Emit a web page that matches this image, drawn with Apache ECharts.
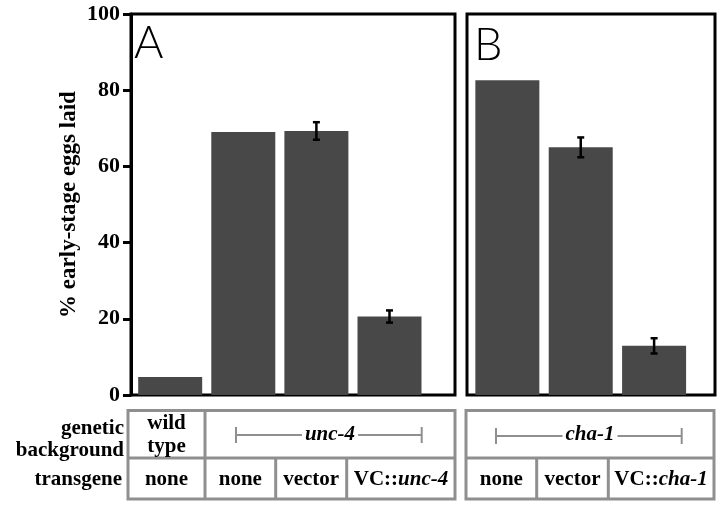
<!DOCTYPE html>
<html><head><meta charset="utf-8">
<script src="https://cdn.jsdelivr.net/npm/echarts@6/dist/echarts.min.js"></script>
<style>html,body{margin:0;padding:0;background:#fff}#c{width:720px;height:506px}</style>
</head><body><div id="c"></div>
<script>
// ---- data ----
const categoriesA = ['wild type / none', 'unc-4 / none', 'unc-4 / vector', 'unc-4 / VC::unc-4'];
const valuesA = [4.7, 69.0, 69.3, 20.6];
const errA = [null, null, 2.3, 1.6];
const categoriesB = ['cha-1 / none', 'cha-1 / vector', 'cha-1 / VC::cha-1'];
const valuesB = [82.6, 65.0, 12.9];
const errB = [null, 2.6, 2.0];
const yTicks = [0, 20, 40, 60, 80, 100];
const yTitle = '% early-stage eggs laid';
const rowLabels = ['genetic\nbackground', 'transgene'];
const backgroundA = ['wild\ntype', 'unc-4'];
const transgeneA = ['none', 'none', 'vector', 'VC::unc-4'];
const backgroundB = ['cha-1'];
const transgeneB = ['none', 'vector', 'VC::cha-1'];

const SERIF = '"Liberation Serif","Times New Roman",serif';
const BAR = '#484848';
const GRAY = '#8f8f8f';

function barData(vals){ return vals.map((v,i)=>[i,v]); }
function errData(vals, errs){
  const out=[]; vals.forEach((v,i)=>{ if(errs[i]!=null) out.push([i, v-errs[i], v+errs[i]]); }); return out;
}
function errRender(params, api){
  const x=api.value(0), lo=api.coord([x, api.value(1)]), hi=api.coord([x, api.value(2)]);
  const w=3.5;
  const st={stroke:'#000', lineWidth:2.5};
  return {type:'group', children:[
    {type:'line', shape:{x1:lo[0],y1:lo[1],x2:hi[0],y2:hi[1]}, style:st},
    {type:'line', shape:{x1:lo[0]-w,y1:lo[1],x2:lo[0]+w,y2:lo[1]}, style:st},
    {type:'line', shape:{x1:hi[0]-w,y1:hi[1],x2:hi[0]+w,y2:hi[1]}, style:st}
  ]};
}

function txt(x,y,text,opt){
  return Object.assign({type:'text', x:x, y:y, z:20, style:Object.assign({
    text:text, font:'bold 21px '+SERIF, fill:'#000', align:'center', verticalAlign:'middle'
  }, opt||{})});
}
function ln(x1,y1,x2,y2,color,w){
  return {type:'line', z:10, shape:{x1,y1,x2,y2}, style:{stroke:color||GRAY, lineWidth:w||3}};
}
function italicMixed(x,y,plain,ital){
  return {type:'text', x:x, y:y, z:20, style:{
    text:'{p|'+plain+'}{i|'+ital+'}', align:'center', verticalAlign:'middle',
    rich:{p:{font:'bold 21px '+SERIF, fill:'#000'}, i:{font:'italic bold 21px '+SERIF, fill:'#000'}}
  }};
}

const tTop=410.5, tMid=458, tBot=499;
const graphics = [
  {type:'text', x:134, y:21, z:30, style:{text:'A', font:'300 45px Lato, "Open Sans", sans-serif', fill:'#000'}},
  {type:'text', x:474, y:23, z:30, style:{text:'B', font:'300 45px Lato, "Open Sans", sans-serif', fill:'#000'}},
  txt(124, 440, rowLabels[0], {align:'right', lineHeight:22}),
  txt(122, 480, rowLabels[1], {align:'right'}),
  {type:'rect', z:10, shape:{x:128,y:tTop,width:327,height:tBot-tTop}, style:{fill:'none', stroke:GRAY, lineWidth:3}},
  ln(128,tMid,455,tMid), ln(205,tTop,205,tBot), ln(275.7,tMid,275.7,tBot), ln(346.7,tMid,346.7,tBot),
  txt(166.5, 435, backgroundA[0], {lineHeight:23}),
  ln(236,435,421.7,435,GRAY,2), ln(236,427,236,443,GRAY,2), ln(421.7,427,421.7,443,GRAY,2),
  txt(330, 435, backgroundA[1], {font:'italic bold 21px '+SERIF, backgroundColor:'#fff', padding:[0,3]}),
  txt(166.5, 480, transgeneA[0]), txt(240.3, 480, transgeneA[1]), txt(311.2, 480, transgeneA[2]),
  italicMixed(401, 480, 'VC::', 'unc-4'),
  {type:'rect', z:10, shape:{x:466,y:tTop,width:248,height:tBot-tTop}, style:{fill:'none', stroke:GRAY, lineWidth:3}},
  ln(466,tMid,714,tMid), ln(536.7,tMid,536.7,tBot), ln(608.3,tMid,608.3,tBot),
  ln(496,436,681.7,436,GRAY,2), ln(496,428,496,444,GRAY,2), ln(681.7,428,681.7,444,GRAY,2),
  txt(590, 435, backgroundB[0], {font:'italic bold 21px '+SERIF, backgroundColor:'#fff', padding:[0,3]}),
  txt(501.3, 480, transgeneB[0]), txt(572.5, 480, transgeneB[1]),
  italicMixed(661, 480, 'VC::', 'cha-1')
];

const chart = echarts.init(document.getElementById('c'), null, {renderer:'canvas'});
chart.setOption({
  animation:false,
  grid:[
    {left:131, top:14, width:324, height:381, show:true, borderColor:'#000', borderWidth:3, backgroundColor:'transparent'},
    {left:467, top:14, width:248, height:381, show:true, borderColor:'#000', borderWidth:3, backgroundColor:'transparent'}
  ],
  xAxis:[
    {gridIndex:0, type:'value', min:-0.536, max:3.896, show:false},
    {gridIndex:1, type:'value', min:-0.55, max:2.83, show:false}
  ],
  yAxis:[
    {gridIndex:0, type:'value', min:yTicks[0], max:yTicks[yTicks.length-1], interval:yTicks[1]-yTicks[0],
     name:yTitle, nameLocation:'middle', nameRotate:90, nameGap:50,
     nameTextStyle:{fontFamily:SERIF, fontWeight:'bold', fontSize:23, color:'#000'},
     axisLine:{show:true, onZero:false, lineStyle:{color:'#000', width:3}},
     axisTick:{show:true, inside:false, length:8, lineStyle:{color:'#000', width:3}},
     axisLabel:{margin:11, fontFamily:SERIF, fontWeight:'bold', fontSize:22, color:'#000'},
     splitLine:{show:false}},
    {gridIndex:1, type:'value', min:0, max:100, show:false, splitLine:{show:false}}
  ],
  series:[
    {type:'bar', xAxisIndex:0, yAxisIndex:0, data:barData(valuesA), barWidth:64, itemStyle:{color:BAR}},
    {type:'bar', xAxisIndex:1, yAxisIndex:1, data:barData(valuesB), barWidth:64, itemStyle:{color:BAR}},
    {type:'custom', xAxisIndex:0, yAxisIndex:0, data:errData(valuesA, errA), renderItem:errRender, z:5},
    {type:'custom', xAxisIndex:1, yAxisIndex:1, data:errData(valuesB, errB), renderItem:errRender, z:5}
  ],
  graphic:graphics
});
</script></body></html>
